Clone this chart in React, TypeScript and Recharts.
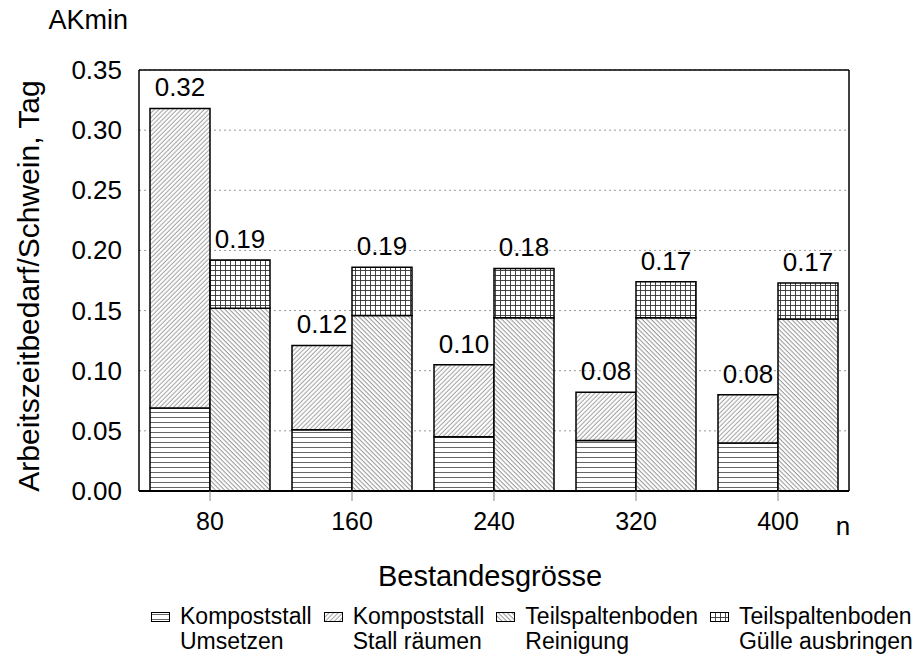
import React from "react";
import { Bar, BarChart, CartesianGrid, LabelList, XAxis, YAxis } from "recharts";

const FONT = "'Liberation Sans', Arial, sans-serif";

const categories = ["80", "160", "240", "320", "400"];
const kompostUmsetzen = [0.069, 0.051, 0.045, 0.042, 0.04];
const kompostRaeumen = [0.249, 0.07, 0.06, 0.04, 0.04];
const spaltenReinigung = [0.152, 0.146, 0.144, 0.144, 0.143];
const spaltenGuelle = [0.04, 0.04, 0.041, 0.03, 0.03];
const kompostLabels = ["0.32", "0.12", "0.10", "0.08", "0.08"];
const spaltenLabels = ["0.19", "0.19", "0.18", "0.17", "0.17"];
const yTicks = [0, 0.05, 0.1, 0.15, 0.2, 0.25, 0.3, 0.35];

const legendItems = [
  { pattern: "pUms", line1: "Kompoststall", line2: "Umsetzen" },
  { pattern: "pRaeum", line1: "Kompoststall", line2: "Stall räumen" },
  { pattern: "pRein", line1: "Teilspaltenboden", line2: "Reinigung" },
  { pattern: "pGuelle", line1: "Teilspaltenboden", line2: "Gülle ausbringen" },
];

const data = categories.map((cat, i) => ({
  cat,
  ums: kompostUmsetzen[i],
  raeum: kompostRaeumen[i],
  rein: spaltenReinigung[i],
  guelle: spaltenGuelle[i],
  kLabel: kompostLabels[i],
  sLabel: spaltenLabels[i],
}));

const YTick = (props: any) => (
  <text x={122} y={props.y} dy={9} textAnchor="end" fontSize={26} fontFamily={FONT} fill="#000">
    {Number(props.payload.value).toFixed(2)}
  </text>
);

const XTick = (props: any) => (
  <text x={props.x} y={530} textAnchor="middle" fontSize={25} fontFamily={FONT} fill="#000">
    {props.payload.value}
  </text>
);

const YTitle = () => (
  <g fontFamily={FONT} fill="#000">
    <text transform="translate(39,286) rotate(-90)" textAnchor="middle" fontSize={30}>
      Arbeitszeitbedarf/Schwein, Tag
    </text>
    <text x={128} y={29} textAnchor="end" fontSize={27}>
      AKmin
    </text>
  </g>
);

const XTitle = () => (
  <g fontFamily={FONT} fill="#000">
    <text x={490} y={586} textAnchor="middle" fontSize={29}>
      Bestandesgrösse
    </text>
    <text x={843} y={535} textAnchor="middle" fontSize={26}>
      n
    </text>
  </g>
);

// value text sits ~12px above the top segment of each stack
const TopLabel = (props: any) => (
  <text
    x={props.x + props.width / 2}
    y={props.y - 12}
    textAnchor="middle"
    fontSize={26}
    fontFamily={FONT}
    fill="#000"
  >
    {props.value}
  </text>
);

const barStroke = { stroke: "#000", strokeWidth: 1.5 };

export default function App() {
  return (
    <div style={{ position: "absolute", left: 0, top: 0, width: 914, height: 659, background: "#fff", fontFamily: FONT }}>
      <BarChart
        width={914}
        height={659}
        data={data}
        margin={{ top: 69, right: 64, bottom: 128, left: 0 }}
        barGap={0}
        barCategoryGap={11}
      >
        <defs>
          <pattern id="pUms" width="8" height="5" patternUnits="userSpaceOnUse">
            <rect width="8" height="5" fill="#fff" />
            <line x1="0" y1="2.5" x2="8" y2="2.5" stroke="#555" strokeWidth="0.9" />
          </pattern>
          <pattern id="pRaeum" width="3.2" height="3.2" patternUnits="userSpaceOnUse" patternTransform="rotate(45)">
            <rect width="3.2" height="3.2" fill="#fff" />
            <line x1="1" y1="0" x2="1" y2="3.2" stroke="#777" strokeWidth="0.7" />
          </pattern>
          <pattern id="pRein" width="3.2" height="3.2" patternUnits="userSpaceOnUse" patternTransform="rotate(-45)">
            <rect width="3.2" height="3.2" fill="#fff" />
            <line x1="1" y1="0" x2="1" y2="3.2" stroke="#666" strokeWidth="0.7" />
          </pattern>
          <pattern id="pGuelle" width="5" height="5" patternUnits="userSpaceOnUse">
            <rect width="5" height="5" fill="#fff" />
            <path d="M0 0.5 H5 M0.5 0 V5" stroke="#333" strokeWidth="0.9" fill="none" />
          </pattern>
        </defs>
        <CartesianGrid vertical={false} stroke="#999" strokeDasharray="2 3" />
        <XAxis
          dataKey="cat"
          height={40}
          tick={<XTick />}
          tickSize={10}
          tickLine={{ stroke: "#888" }}
          axisLine={{ stroke: "#000", strokeWidth: 2 }}
          label={<XTitle />}
        />
        <XAxis
          xAxisId="top"
          dataKey="cat"
          orientation="top"
          height={1}
          tick={false}
          tickLine={false}
          axisLine={{ stroke: "#000", strokeWidth: 1.5 }}
        />
        <YAxis
          width={139}
          domain={[0, 0.35]}
          ticks={yTicks}
          tick={<YTick />}
          tickLine={false}
          axisLine={{ stroke: "#000", strokeWidth: 1.5 }}
          label={<YTitle />}
        />
        <YAxis
          yAxisId="right"
          orientation="right"
          width={1}
          domain={[0, 0.35]}
          tick={false}
          tickLine={false}
          axisLine={{ stroke: "#000", strokeWidth: 1.5 }}
        />
        <Bar dataKey="ums" stackId="k" barSize={60} fill="url(#pUms)" {...barStroke} isAnimationActive={false} />
        <Bar dataKey="raeum" stackId="k" barSize={60} fill="url(#pRaeum)" {...barStroke} isAnimationActive={false}>
          <LabelList dataKey="kLabel" content={<TopLabel />} />
        </Bar>
        <Bar dataKey="rein" stackId="t" barSize={60} fill="url(#pRein)" {...barStroke} isAnimationActive={false} />
        <Bar dataKey="guelle" stackId="t" barSize={60} fill="url(#pGuelle)" {...barStroke} isAnimationActive={false}>
          <LabelList dataKey="sLabel" content={<TopLabel />} />
        </Bar>
      </BarChart>
      <div
        style={{
          position: "absolute",
          left: 151,
          top: 604,
          display: "flex",
          gap: 12,
          fontSize: 23,
          lineHeight: "25px",
          color: "#000",
          whiteSpace: "nowrap",
        }}
      >
        {legendItems.map((item) => (
          <div key={item.pattern + item.line2} style={{ display: "flex", alignItems: "flex-start" }}>
            <svg width={19} height={10} style={{ marginTop: 8, marginRight: 10, flexShrink: 0 }}>
              <rect x={0.5} y={0.5} width={18} height={9} fill={`url(#${item.pattern})`} stroke="#000" />
            </svg>
            <div>
              {item.line1}
              <br />
              {item.line2}
            </div>
          </div>
        ))}
      </div>
    </div>
  );
}
